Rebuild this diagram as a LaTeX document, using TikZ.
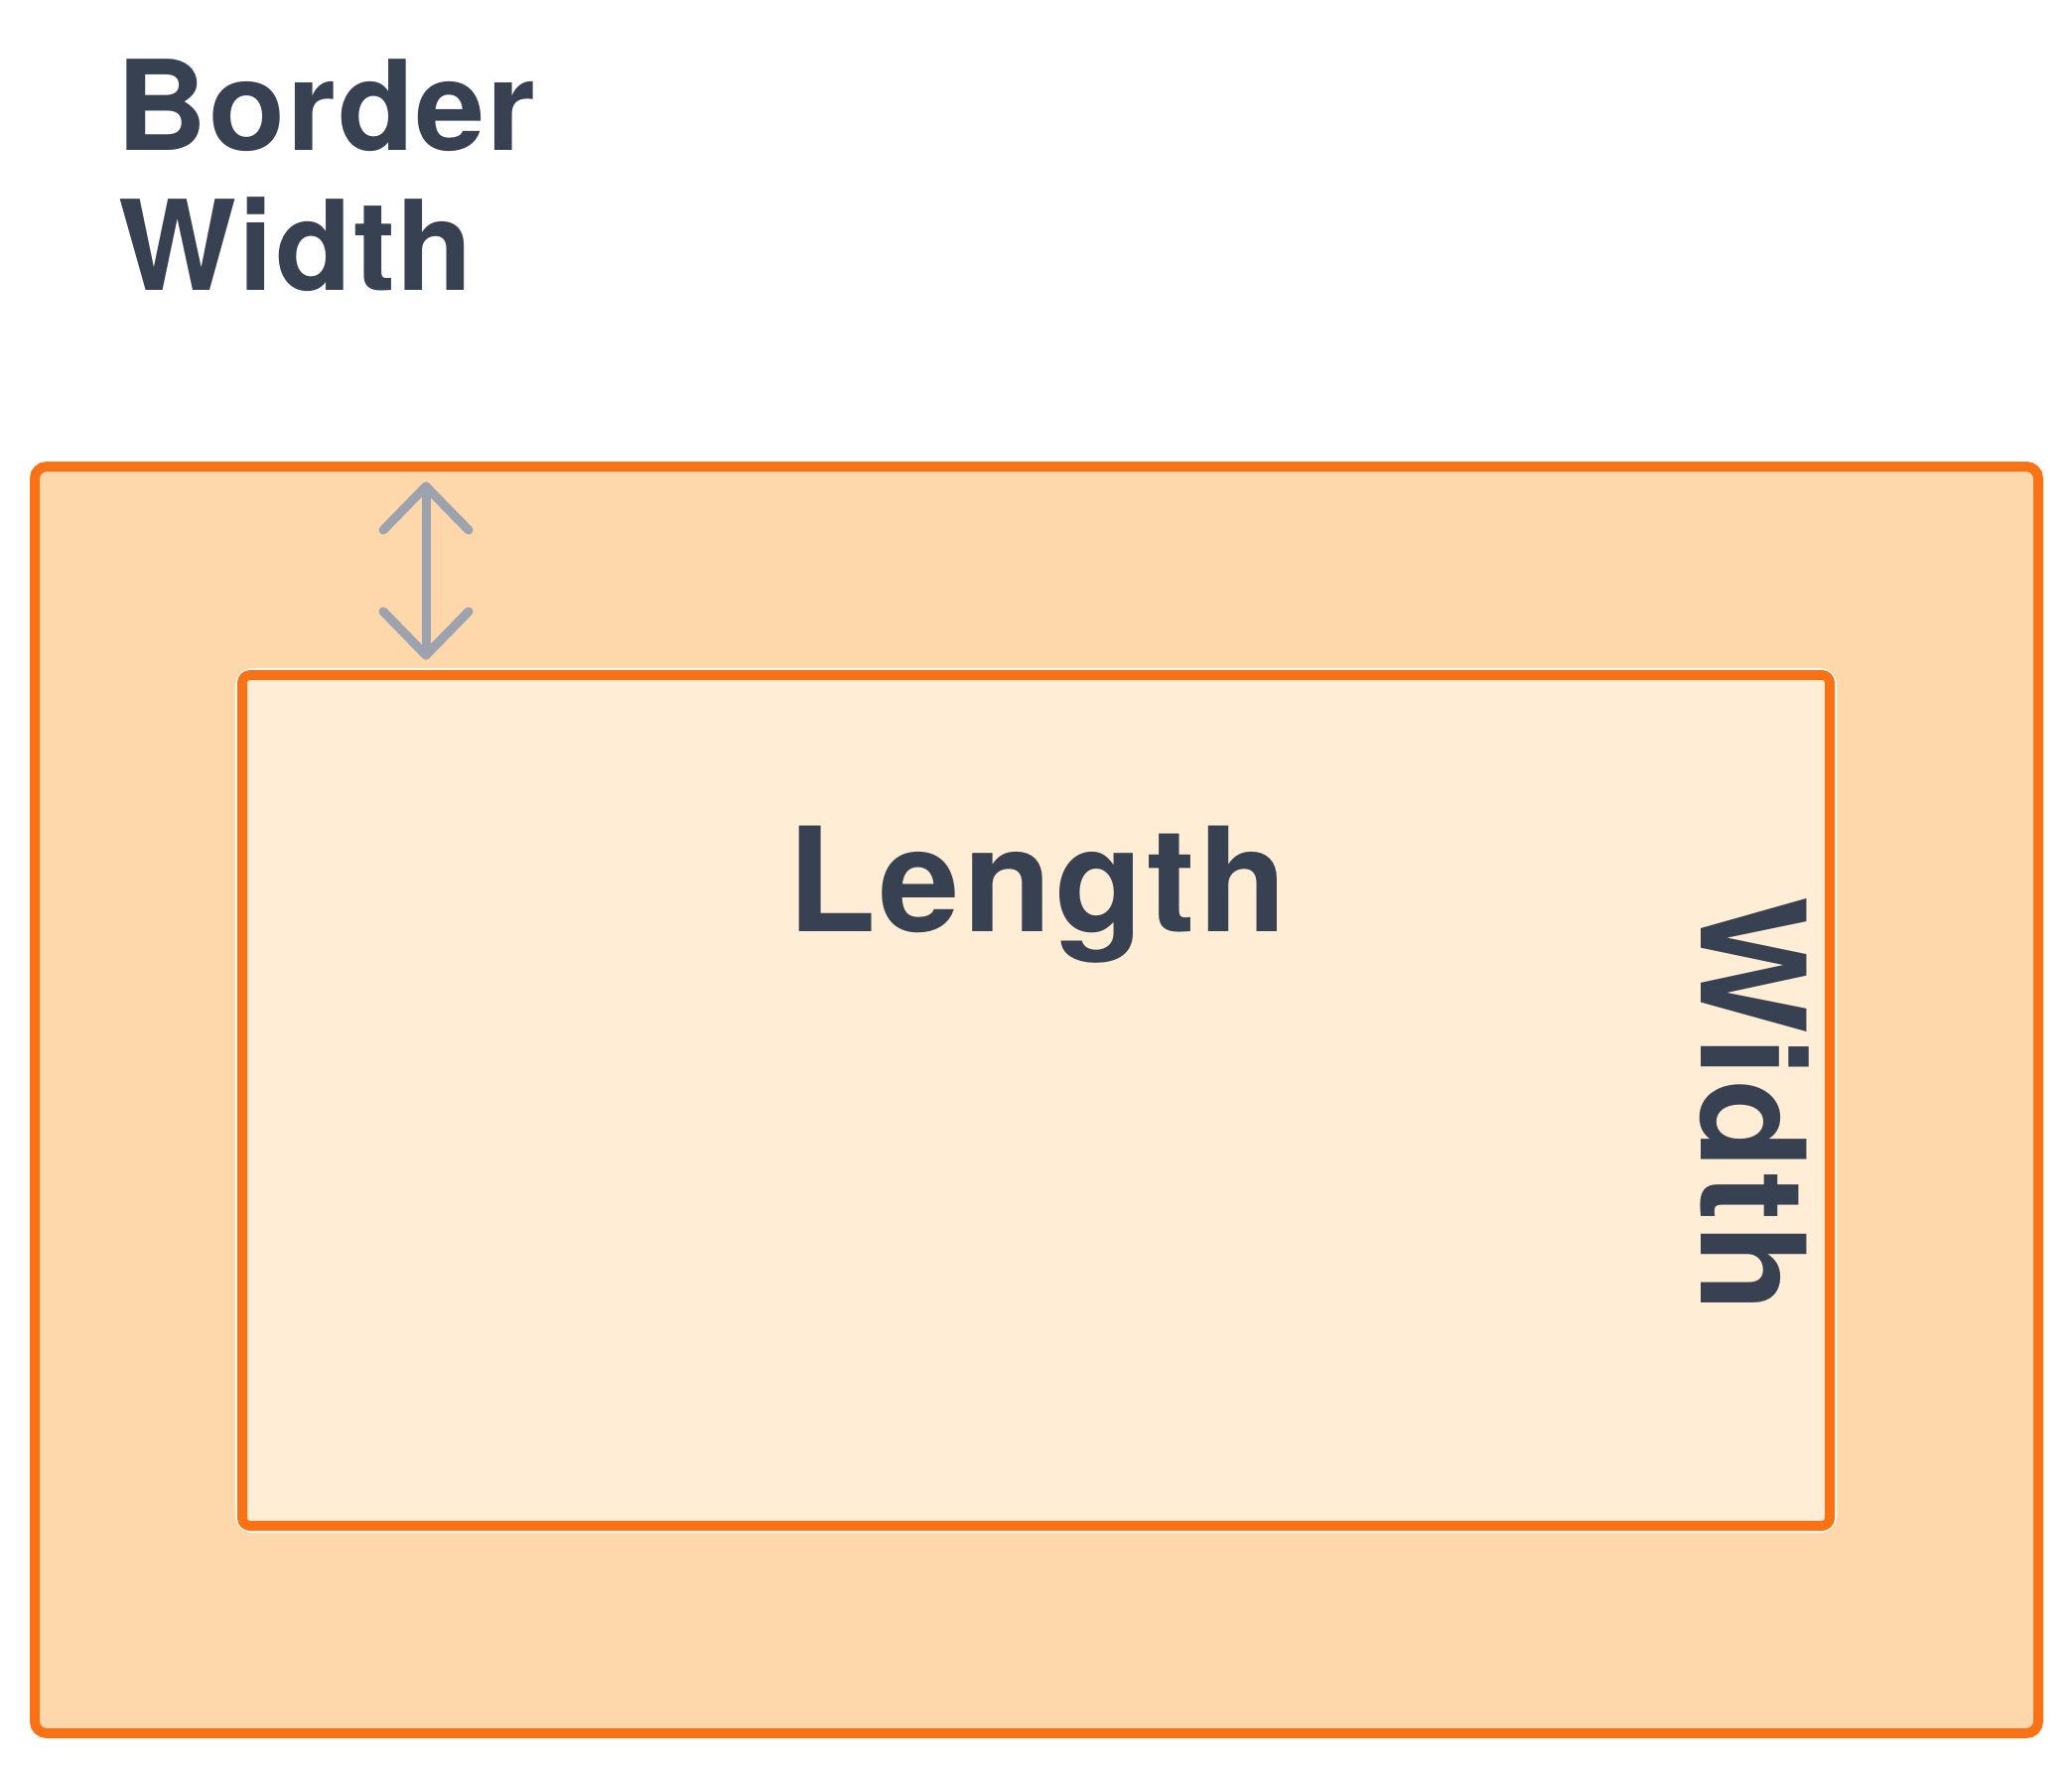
\documentclass[tikz,border=0pt]{standalone}
\usepackage{fontspec}
\setmainfont{TeX Gyre Heros}

\definecolor{slate}{HTML}{374151}
\definecolor{rim}{HTML}{F97316}
\definecolor{borderfill}{HTML}{FED7AA}
\definecolor{boxfill}{HTML}{FFEDD5}
\definecolor{arrowgray}{HTML}{9CA3AF}

\begin{document}
\begin{tikzpicture}[x=0.5pt,y=-0.5pt,
  outer box/.style={draw=rim,fill=borderfill,line width=5pt,rounded corners=6pt},
  inner box/.style={draw=rim,fill=boxfill,line width=5pt,rounded corners=4pt},
  measure/.style={draw=arrowgray,line width=4.5pt,line cap=round,line join=round},
  title text/.style={text=slate,inner sep=0pt,font=\bfseries\fontsize{63}{70}\selectfont\addfontfeature{LetterSpace=1.5}},
  side text/.style={text=slate,inner sep=0pt,font=\bfseries\fontsize{73}{80}\selectfont\addfontfeature{LetterSpace=2.3}}]

\useasboundingbox (0,0) rectangle (2087,1781);

%Corners of the two boxes
\coordinate (outerNW) at (35,470);
\coordinate (outerSE) at (2053,1746);
\coordinate (innerNW) at (244,680);
\coordinate (innerSE) at (1843,1537);

% Border area, then the box inside it
\filldraw[outer box] (outerNW) rectangle (outerSE);
\draw[white,line width=7pt,rounded corners=5pt] (innerNW) rectangle (innerSE);
\filldraw[inner box] (innerNW) rectangle (innerSE);

%Double arrow for the border width
\coordinate (arrtop) at (429,490);
\coordinate (arrbot) at (429,660);
\draw[measure] (arrtop) -- (arrbot);
\draw[measure] (arrtop) ++(-43,44) -- (arrtop) -- ++(43,44);
\draw[measure] (arrbot) ++(-43,-44) -- (arrbot) -- ++(43,-44);

% Labels
\node[title text,anchor=base west] (bordertxt) at (117,152) {Border};
\node[title text,anchor=base west] (widthtxt) at (119,293) {Width};
\node[side text,anchor=base] (lengthtxt) at (1045,938) {Length};
\node[side text,anchor=base,rotate=-90] (sidetxt) at (1713,1113) {Width};

\end{tikzpicture}
\end{document}
